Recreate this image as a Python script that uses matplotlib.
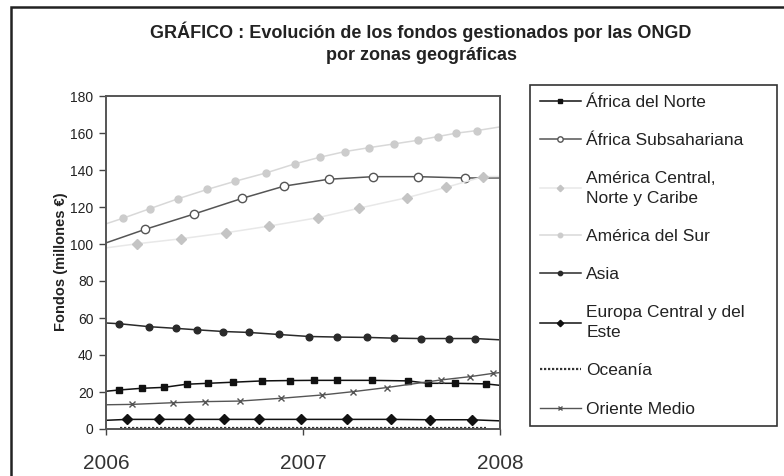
import matplotlib
matplotlib.use("Agg")
import matplotlib.pyplot as plt
from matplotlib.patches import Rectangle

plt.rcParams["font.family"] = ["Liberation Sans", "DejaVu Sans"]

# data (fractional years, millions of euros)
# first/last points are the line ends at the frame, no marker drawn there
x_africa_norte = [2006.0, 2006.068, 2006.181, 2006.294, 2006.409, 2006.518, 2006.646, 2006.794,
                  2006.934, 2007.057, 2007.174, 2007.349, 2007.535, 2007.633, 2007.772, 2007.927, 2008.0]
y_africa_norte = [20.4, 21.1, 22.0, 22.5, 24.2, 24.7, 25.3, 26.0,
                  26.2, 26.3, 26.3, 26.3, 26.0, 24.7, 24.7, 24.4, 23.6]

x_africa_sub = [2006.0, 2006.198, 2006.447, 2006.692, 2006.905, 2007.130, 2007.357, 2007.585, 2007.822, 2008.0]
y_africa_sub = [100.6, 107.9, 116.2, 124.7, 131.3, 135.0, 136.4, 136.4, 135.7, 135.7]

x_america_central = [2006.0, 2006.156, 2006.379, 2006.611, 2006.829, 2007.074, 2007.286,
                     2007.526, 2007.726, 2007.915, 2008.0]
y_america_central = [97.9, 100.1, 102.8, 106.1, 109.7, 114.2, 119.4, 125.0, 130.6, 136.4, 136.5]

x_america_sur = [2006.0, 2006.088, 2006.223, 2006.367, 2006.514, 2006.655, 2006.812, 2006.958, 2007.086,
                 2007.215, 2007.337, 2007.462, 2007.585, 2007.685, 2007.777, 2007.882, 2008.0]
y_america_sur = [110.9, 114.0, 119.1, 124.5, 129.5, 133.9, 138.4, 143.3, 146.9,
                 150.0, 152.1, 154.1, 156.1, 158.1, 159.9, 161.3, 163.3]

x_asia = [2006.0, 2006.068, 2006.220, 2006.355, 2006.464, 2006.596, 2006.724, 2006.876,
          2007.032, 2007.174, 2007.326, 2007.462, 2007.599, 2007.741, 2007.873, 2008.0]
y_asia = [57.3, 56.9, 55.3, 54.4, 53.6, 52.7, 52.2, 51.1,
          50.0, 49.7, 49.5, 49.1, 48.9, 48.9, 48.9, 48.2]

x_europa = [2006.0, 2006.108, 2006.267, 2006.419, 2006.597, 2006.777, 2006.988,
            2007.223, 2007.445, 2007.645, 2007.856, 2008.0]
y_europa = [4.7, 5.2, 5.2, 5.2, 5.2, 5.2, 5.2, 5.2, 5.2, 5.0, 5.0, 4.4]

x_oceania = [2006.07, 2006.5, 2007.0, 2007.5, 2007.93]
y_oceania = [0.4, 0.4, 0.4, 0.4, 0.4]

x_oriente = [2006.0, 2006.130, 2006.338, 2006.503, 2006.679, 2006.887, 2007.098,
             2007.255, 2007.425, 2007.699, 2007.848, 2007.966, 2008.0]
y_oriente = [13.1, 13.3, 14.2, 14.8, 15.1, 16.6, 18.4, 20.2, 22.4, 26.5, 28.3, 30.1, 30.5]

year_ticks = [2006, 2007, 2008]
y_ticks = list(range(0, 181, 20))

fig = plt.figure(figsize=(7.84, 4.76), dpi=100)
ax = fig.add_axes([106 / 784, 1 - 429 / 476, 394 / 784, 333 / 476])

inner = slice(1, -1)
ax.plot(x_africa_norte, y_africa_norte, color="#111111", lw=1.1, marker="s", ms=5,
        markevery=inner, label="África del Norte")
ax.plot(x_africa_sub, y_africa_sub, color="#555555", lw=1.1, marker="o", ms=6,
        mfc="white", mec="#555555", markevery=inner, label="África Subsahariana")
ax.plot(x_america_central, y_america_central, color="#e8e8e8", lw=1.1, marker="D", ms=5,
        mfc="#c4c4c4", mec="#c4c4c4", markevery=inner, label="América Central,\nNorte y Caribe")
ax.plot(x_america_sur, y_america_sur, color="#d8d8d8", lw=1.1, marker="o", ms=5,
        mfc="#cccccc", mec="#cccccc", markevery=inner, label="América del Sur")
ax.plot(x_asia, y_asia, color="#2a2a2a", lw=1.1, marker="o", ms=4.8,
        markevery=inner, label="Asia")
ax.plot(x_europa, y_europa, color="#111111", lw=1.1, marker="D", ms=5,
        markevery=inner, label="Europa Central y del\nEste")
ax.plot(x_oceania, y_oceania, color="#333333", lw=1.6, ls=(0, (1, 0.8)), label="Oceanía")
ax.plot(x_oriente, y_oriente, color="#555555", lw=1.0, marker="x", ms=4.5, mew=1,
        markevery=inner, label="Oriente Medio")

ax.set_xlim(2006, 2008)
ax.set_ylim(0, 180)
ax.set_xticks(year_ticks)
ax.set_xticklabels([str(t) for t in year_ticks], fontsize=15, color="#333333")
ax.set_yticks(y_ticks)
ax.set_yticklabels([str(t) for t in y_ticks], fontsize=10, color="#222222")
ax.tick_params(axis="y", direction="out", length=5, width=1, color="#444444", pad=4)
ax.tick_params(axis="x", direction="out", length=4, width=1, color="#444444", pad=14)
for sp in ax.spines.values():
    sp.set_color("#555555")
    sp.set_linewidth(1.4)

fig.text(61 / 784, 1 - 262 / 476, "Fondos (millones €)", rotation=90, ha="center",
         va="center", fontsize=10.5, fontweight="bold", color="#222222")

fig.text(421 / 784, 1 - 22 / 476,
         "GRÁFICO : Evolución de los fondos gestionados por las ONGD\npor zonas geográficas",
         ha="center", va="top", fontsize=13, fontweight="bold", color="#222222", linespacing=1.35)

leg = ax.legend(loc="upper left", bbox_to_anchor=(530 / 784, 1 - 85 / 476, 247 / 784, 0),
                bbox_transform=fig.transFigure, mode="expand", borderaxespad=0,
                fontsize=12.5, numpoints=1, handlelength=2.4, handletextpad=0.3,
                labelspacing=1.33, borderpad=0.55, fancybox=False, framealpha=1,
                markerscale=0.65)
leg.get_frame().set_edgecolor("#333333")
leg.get_frame().set_linewidth(1.2)
for t in leg.get_texts():
    t.set_color("#222222")
    t.set_linespacing(1.4)

# outer frame of the picture (open at right and bottom)
fig.patches.append(Rectangle((11 / 784, -0.1), 1.2, 1.1 - 7 / 476, transform=fig.transFigure,
                             fill=False, edgecolor="#222222", lw=1.8, clip_on=False))

fig.savefig("out.png", dpi=100)
